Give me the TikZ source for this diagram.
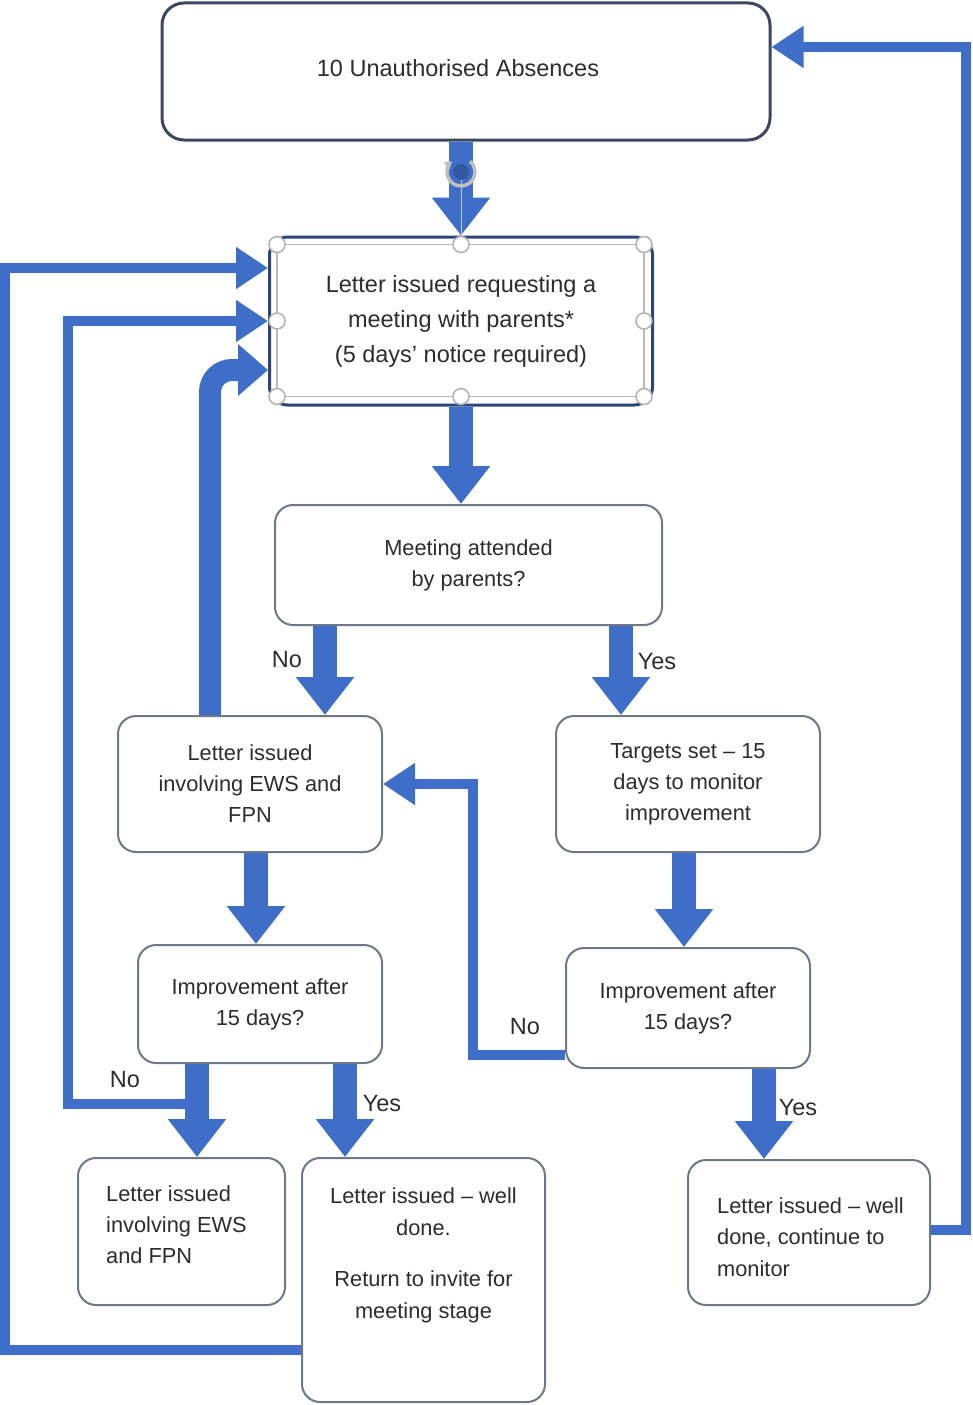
\documentclass[tikz,border=0pt]{standalone}
\usepackage{fontspec}
\setmainfont{Liberation Sans}
\usetikzlibrary{arrows.meta,calc}
\definecolor{flowblue}{RGB}{62,110,200}
\definecolor{boxline}{RGB}{112,120,135}
\definecolor{topline}{RGB}{60,72,95}
\definecolor{selline}{RGB}{45,70,120}
\definecolor{txt}{RGB}{45,45,45}
\tikzset{
 flowbox/.style={draw=boxline, line width=2pt, rounded corners=18pt, fill=white, text=txt, align=center, font=\fontsize{21.8}{31}\selectfont, inner sep=0pt},
 bigtext/.style={font=\fontsize{23.5}{35}\selectfont},
 bigarrow/.style={draw=flowblue, line width=24pt, -{Triangle[width=56pt,length=38pt]}},
 backline/.style={draw=flowblue, line width=10pt, -{Triangle[width=40pt,length=32pt]}},
 lbl/.style={text=txt, font=\fontsize{23.5}{28}\selectfont, inner sep=0pt},
 handle/.style={circle, draw=gray!60, fill=white, line width=1.5pt, minimum size=16pt, inner sep=0pt},
}
\begin{document}
\begin{tikzpicture}[x=1pt,y=-1pt]
\useasboundingbox (0,0) rectangle (973,1405);
% boxes
\node[flowbox, bigtext, draw=topline, line width=3pt, rounded corners=22pt, minimum width=608pt, minimum height=137pt] (top) at (466,71.5) {};
\node[text=txt, bigtext, inner sep=0pt] (toptxt) at (458,68) {10 Unauthorised Absences};
\node[flowbox, bigtext, draw=selline, line width=3pt, minimum width=383pt, minimum height=168pt] (req) at (461,321) {Letter issued requesting a\\meeting with parents*\\(5 days' notice required)};
\node[flowbox, minimum width=387pt, minimum height=120pt] (meet) at (468.5,565) {Meeting attended\\by parents?};
\node[flowbox, minimum width=264pt, minimum height=136pt] (ews1) at (250,784) {Letter issued\\involving EWS and\\FPN};
\node[flowbox, minimum width=264pt, minimum height=136pt] (targ) at (688,784) {Targets set – 15\\days to monitor\\improvement};
\node[flowbox, minimum width=244pt, minimum height=118pt] (imp1) at (260,1004) {Improvement after\\15 days?};
\node[flowbox, minimum width=244pt, minimum height=120pt] (imp2) at (688,1008) {Improvement after\\15 days?};
\node[flowbox, minimum width=207pt, minimum height=147pt] (ews2) at (181.5,1231.5) {};
\node[text=txt, align=left, inner sep=0pt, font=\fontsize{21.8}{31}\selectfont, anchor=west] (ews2txt) at (106,1225) {Letter issued\\involving EWS\\and FPN};
\node[flowbox, minimum width=243pt, minimum height=244pt] (done1) at (423.5,1280) {};
\node[text=txt, align=center, inner sep=0pt, font=\fontsize{21.8}{32}\selectfont] (done1txt) at (423.5,1255) {Letter issued – well\\done.\\[19pt]Return to invite for\\meeting stage};
\node[flowbox, minimum width=242pt, minimum height=145pt] (done2) at (809,1232.5) {};
\node[text=txt, align=left, inner sep=0pt, font=\fontsize{21.8}{31.5}\selectfont, anchor=west] (done2txt) at (717,1237) {Letter issued – well\\done, continue to\\monitor};
% feedback lines
\draw[backline] ([yshift=2.5pt]done2.east) -- ++(35,0) |- ([yshift=24.5pt]top.east);
\draw[backline] ([yshift=-70pt]done1.west) -- ++(-296,0) |- ([yshift=53pt]req.west);
\draw[backline] ([xshift=-63pt,yshift=-40pt]imp1.south) -- ++(-129,0) |- (req.west);
\draw[backline] ([yshift=-47pt]imp2.west) -- ++(-92,0) |- (ews1.east);
\draw[draw=flowblue, line width=22pt, rounded corners=22pt, -{Triangle[width=50pt,length=30pt]}] ([xshift=-40pt]ews1.north) |- ([yshift=-49pt]req.west);
% main arrows
\draw[bigarrow] (top.south -| req.north) -- (req.north);
\draw[bigarrow] (req.south) -- (req.south |- meet.north);
\draw[bigarrow] ([xshift=-143.5pt]meet.south) -- ([xshift=-143.5pt]meet.south |- ews1.north);
\draw[bigarrow] ([xshift=152.5pt]meet.south) -- ([xshift=152.5pt]meet.south |- targ.north);
\draw[bigarrow] ([xshift=6pt]ews1.south) -- ([xshift=6pt]ews1.south |- imp1.north);
\draw[bigarrow] ([xshift=-4pt]targ.south) -- ([xshift=-4pt]targ.south |- imp2.north);
\draw[bigarrow] ([xshift=-63pt]imp1.south) -- ([xshift=-63pt]imp1.south |- ews2.north);
\draw[bigarrow] ([xshift=85pt]imp1.south) -- ([xshift=85pt]imp1.south |- done1.north);
\draw[bigarrow] ([xshift=76pt]imp2.south) -- ([xshift=76pt]imp2.south |- done2.north);
% labels
\node[lbl] (lno1) at (287,660) {No};
\node[lbl] (lyes1) at (657,662) {Yes};
\node[lbl] (lno2) at (125,1080) {No};
\node[lbl] (lyes2) at (382,1104) {Yes};
\node[lbl] (lno3) at (525,1027) {No};
\node[lbl] (lyes3) at (798,1108) {Yes};
% selection frame on req
\coordinate (hNW) at ([shift={(9pt,-9pt)}]req.north west);
\coordinate (hSE) at ([shift={(-10pt,10pt)}]req.south east);
\draw[gray!55, line width=1.5pt] (hNW) rectangle (hSE);
\draw[gray!45, line width=1pt] (req.north) -- ++(0,-60);
\foreach \p in {(hNW), (hNW -| req.center), (hNW -| hSE), (hNW |- req.center), (hSE |- req.center), (hSE -| hNW), (hSE -| req.center), (hSE)}
  \node[handle] at \p {};
% rotate handle
\fill[flowblue!80!black] (461,172) circle (8pt);
\draw[gray!50, line width=3.5pt, -{Triangle[width=9pt,length=7pt]}] ([shift={(50:14pt)}]461,172) arc (50:-230:14pt);
\end{tikzpicture}
\end{document}
